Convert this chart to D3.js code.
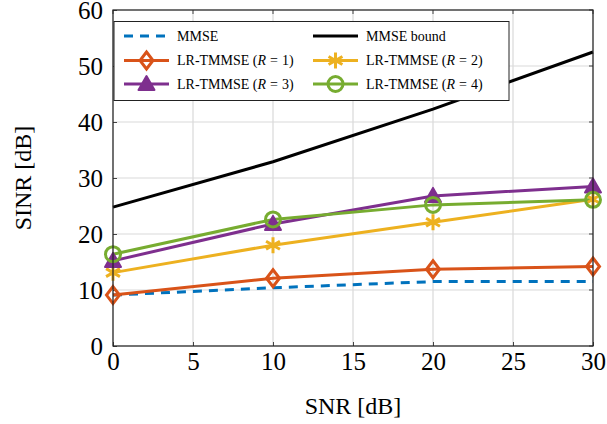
<!DOCTYPE html>
<html>
<head>
<meta charset="utf-8">
<script src="https://cdn.jsdelivr.net/npm/d3@7"></script>
<style>
  html, body { margin: 0; padding: 0; background: #fff; }
</style>
</head>
<body>
<svg id="chart" width="607" height="424" font-family="Liberation Serif"></svg>
<script>
// SNR values (x axis)
const snr = [0, 10, 20, 30];

// SINR values in dB for each receiver
const mmse      = [9.1, 10.4, 11.5, 11.5];
const mmseBound = [24.8, 32.9, 42.3, 52.5];
const lrR1      = [9.1, 12.1, 13.7, 14.2];
const lrR2      = [13.1, 18.0, 22.1, 26.2];
const lrR3      = [15.2, 21.8, 26.8, 28.5];
const lrR4      = [16.4, 22.6, 25.2, 26.1];

const xTicks = [0, 5, 10, 15, 20, 25, 30];
const yTicks = [0, 10, 20, 30, 40, 50, 60];

const series = [
  { name: "MMSE", values: mmse, color: "#0072BD", dash: "9,7", marker: null },
  { name: "MMSE bound", values: mmseBound, color: "#000000", dash: null, marker: null },
  { name: "LR-TMMSE", R: 1, values: lrR1, color: "#D95319", dash: null, marker: "diamond" },
  { name: "LR-TMMSE", R: 2, values: lrR2, color: "#EDB120", dash: null, marker: "star" },
  { name: "LR-TMMSE", R: 3, values: lrR3, color: "#7E2F8E", dash: null, marker: "triangle" },
  { name: "LR-TMMSE", R: 4, values: lrR4, color: "#77AC30", dash: null, marker: "circle" }
];

const FONT = "Liberation Serif";
const svg = d3.select("#chart");
const L = 113, R = 593, T = 10, B = 346;

const x = d3.scaleLinear().domain([0, 30]).range([L, R]);
const y = d3.scaleLinear().domain([0, 60]).range([B, T]);

// grid
const grid = svg.append("g");
grid.selectAll("line.gx").data(xTicks).join("line")
  .attr("x1", d => x(d)).attr("x2", d => x(d)).attr("y1", T).attr("y2", B)
  .attr("stroke", "#d9d9d9").attr("stroke-width", 1.2);
grid.selectAll("line.gy").data(yTicks).join("line")
  .attr("x1", L).attr("x2", R).attr("y1", d => y(d)).attr("y2", d => y(d))
  .attr("stroke", "#d9d9d9").attr("stroke-width", 1.2);

// axes (inward ticks)
const xAxis = svg.append("g").attr("transform", `translate(0,${B})`)
  .call(d3.axisBottom(x).tickValues(xTicks).tickSizeInner(-4).tickSizeOuter(0).tickPadding(6));
const yAxis = svg.append("g").attr("transform", `translate(${L},0)`)
  .call(d3.axisLeft(y).tickValues(yTicks).tickSizeInner(-4).tickSizeOuter(0).tickPadding(10));
[xAxis, yAxis].forEach(a => {
  a.attr("font-family", FONT).attr("font-size", 25);
  a.select(".domain").remove();
  a.selectAll(".tick line").attr("stroke", "#444").attr("stroke-width", 1);
  a.selectAll("text").attr("fill", "#000").attr("font-family", FONT);
});
xAxis.selectAll("text").attr("dy", "0.71em");
yAxis.selectAll("text").attr("dy", "0.33em");
// top/right inward ticks
svg.append("g").selectAll("line").data(xTicks).join("line")
  .attr("x1", d => x(d)).attr("x2", d => x(d)).attr("y1", T).attr("y2", T + 4)
  .attr("stroke", "#444");
svg.append("g").selectAll("line").data(yTicks).join("line")
  .attr("x1", R).attr("x2", R - 4).attr("y1", d => y(d)).attr("y2", d => y(d))
  .attr("stroke", "#444");

// axis labels
svg.append("text").attr("x", (L + R) / 2).attr("y", 414).attr("text-anchor", "middle")
  .attr("font-family", FONT).attr("font-size", 24).text("SNR [dB]");
svg.append("text").attr("transform", `translate(31,${(T + B) / 2}) rotate(-90)`)
  .attr("text-anchor", "middle").attr("font-family", FONT).attr("font-size", 24).text("SINR [dB]");

// markers
function drawMarker(g, type, color, cx, cy) {
  if (type === "diamond") {
    const h = 8.5, w = 6.5;
    g.append("path").attr("d", `M${cx},${cy - h}L${cx + w},${cy}L${cx},${cy + h}L${cx - w},${cy}Z`)
      .attr("fill", "none").attr("stroke", color).attr("stroke-width", 3);
  } else if (type === "triangle") {
    const h = 8;
    g.append("path").attr("d", `M${cx},${cy - h}L${cx + h},${cy + h * 0.75}L${cx - h},${cy + h * 0.75}Z`)
      .attr("fill", color).attr("stroke", color).attr("stroke-width", 2).attr("stroke-linejoin", "round");
  } else if (type === "circle") {
    g.append("circle").attr("cx", cx).attr("cy", cy).attr("r", 7.5)
      .attr("fill", "none").attr("stroke", color).attr("stroke-width", 3);
  } else if (type === "star") {
    const r = 8;
    let d = "";
    for (let k = 0; k < 3; k++) {
      const a = Math.PI / 2 + k * Math.PI / 3;
      d += `M${cx + r * Math.cos(a)},${cy - r * Math.sin(a)}L${cx - r * Math.cos(a)},${cy + r * Math.sin(a)}`;
    }
    g.append("path").attr("d", d).attr("stroke", color).attr("stroke-width", 3).attr("fill", "none");
  }
}

const lineGen = d3.line().x((d, i) => x(snr[i])).y(d => y(d));
const plot = svg.append("g");
series.forEach(s => {
  plot.append("path").datum(s.values).attr("d", lineGen)
    .attr("fill", "none").attr("stroke", s.color).attr("stroke-width", 3)
    .attr("stroke-dasharray", s.dash);
});
series.forEach(s => {
  if (!s.marker) return;
  const g = plot.append("g");
  s.values.forEach((v, i) => drawMarker(g, s.marker, s.color, x(snr[i]), y(v)));
});

// box
svg.append("rect").attr("x", L).attr("y", T).attr("width", R - L).attr("height", B - T)
  .attr("fill", "none").attr("stroke", "#222").attr("stroke-width", 1.2);

// legend
const lg = svg.append("g");
lg.append("rect").attr("x", 114).attr("y", 21.5).attr("width", 395).attr("height", 79)
  .attr("fill", "#fff").attr("stroke", "#222").attr("stroke-width", 1);
const cols = [124, 313], rows = [36, 60.5, 84];
series.forEach((s, i) => {
  const cx = cols[i % 2], cy = rows[Math.floor(i / 2)];
  lg.append("line").attr("x1", cx).attr("x2", cx + 45).attr("y1", cy).attr("y2", cy)
    .attr("stroke", s.color).attr("stroke-width", 3).attr("stroke-dasharray", s.dash);
  if (s.marker) drawMarker(lg, s.marker, s.color, cx + 22.5, cy);
  const t = lg.append("text").attr("x", cx + 53).attr("y", cy).attr("dy", "0.35em")
    .attr("font-family", FONT).attr("font-size", 14);
  if (s.R === undefined) {
    t.text(s.name);
  } else {
    t.append("tspan").text(s.name + " (");
    t.append("tspan").attr("font-style", "italic").text("R");
    t.append("tspan").attr("dx", 4).text("=");
    t.append("tspan").attr("dx", 4).text(s.R);
    t.append("tspan").text(")");
  }
});
</script>
</body>
</html>
